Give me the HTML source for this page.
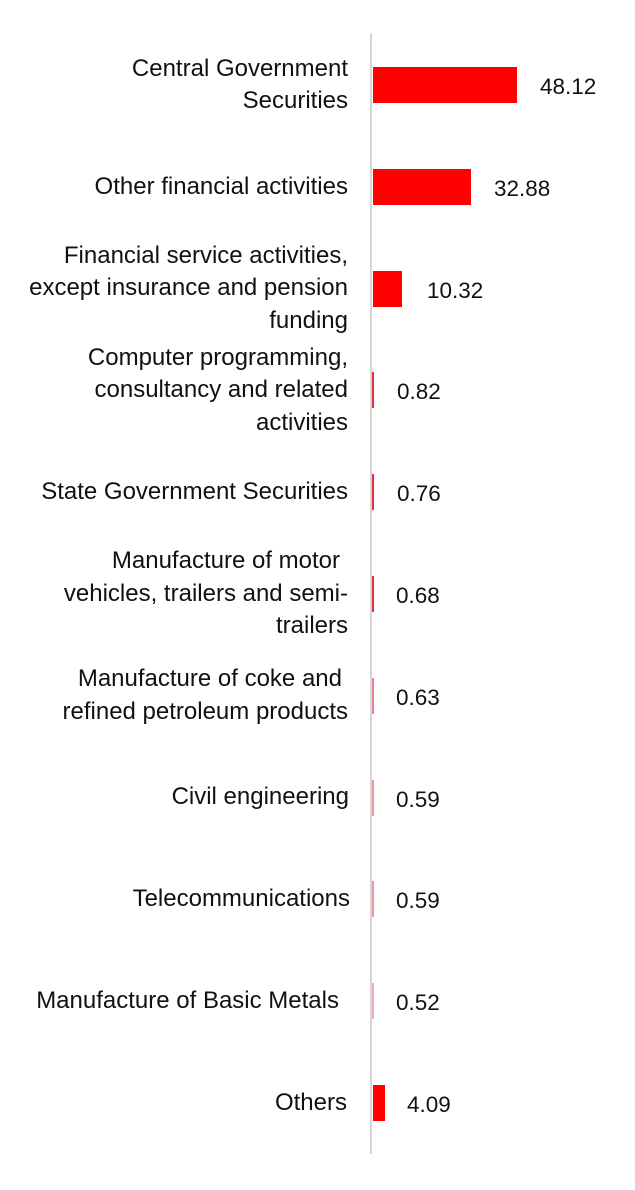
<!DOCTYPE html>
<html>
<head>
<meta charset="utf-8">
<style>
  html, body { margin:0; padding:0; background:#fff; }
  body { width:635px; height:1190px; position:relative; overflow:hidden; font-family:"Liberation Sans", sans-serif; color:#111; }
  .axis { position:absolute; left:370px; top:33px; width:2px; height:1121px; background:#d6d6d6; }
  .lab { position:absolute; left:0; width:348px; height:120px; display:flex; align-items:center; justify-content:flex-end; font-size:24px; line-height:32.5px; white-space:nowrap; }
  .lab > div { text-align:right; }
  .bar { position:absolute; left:373px; height:36px; background:#ff0000; }
  .thin { position:absolute; left:372px; width:1.5px; height:36px; background:#e03040; }
  .val { position:absolute; font-size:22.5px; line-height:36px; white-space:nowrap; }
</style>
</head>
<body>
<div class="axis"></div>

<div class="lab" style="top:25px;"><div>Central Government<br>Securities</div></div>
<div class="bar" style="top:67px; width:144px;"></div>
<div class="val" style="top:69px; left:540px;">48.12</div>

<div class="lab" style="top:126.8px;"><div>Other financial activities</div></div>
<div class="bar" style="top:168.8px; width:98px;"></div>
<div class="val" style="top:170.8px; left:494px;">32.88</div>

<div class="lab" style="top:228.6px;"><div>Financial service activities,<br>except insurance and pension<br>funding</div></div>
<div class="bar" style="top:270.6px; width:29px;"></div>
<div class="val" style="top:272.6px; left:427px;">10.32</div>

<div class="lab" style="top:330.4px;"><div>Computer programming,<br>consultancy and related<br>activities</div></div>
<div class="thin" style="top:372.4px;"></div>
<div class="val" style="top:374.4px; left:397px;">0.82</div>

<div class="lab" style="top:432.2px;"><div>State Government Securities</div></div>
<div class="thin" style="top:474.2px;"></div>
<div class="val" style="top:476.2px; left:397px;">0.76</div>

<div class="lab" style="top:534px;"><div><span style="padding-right:8px;">Manufacture of motor</span><br>vehicles, trailers and semi-<br>trailers</div></div>
<div class="thin" style="top:576px;"></div>
<div class="val" style="top:578px; left:396px;">0.68</div>

<div class="lab" style="top:635.8px;"><div><span style="padding-right:6px;">Manufacture of coke and</span><br>refined petroleum products</div></div>
<div class="thin" style="top:677.8px; opacity:0.6;"></div>
<div class="val" style="top:679.8px; left:396px;">0.63</div>

<div class="lab" style="top:737.6px;"><div style="margin-right:-1px;">Civil engineering</div></div>
<div class="thin" style="top:779.6px; opacity:0.5;"></div>
<div class="val" style="top:781.6px; left:396px;">0.59</div>

<div class="lab" style="top:839.4px;"><div style="margin-right:-2px;">Telecommunications</div></div>
<div class="thin" style="top:881.4px; opacity:0.5;"></div>
<div class="val" style="top:883.4px; left:396px;">0.59</div>

<div class="lab" style="top:941.2px;"><div style="padding-right:9px;">Manufacture of Basic Metals</div></div>
<div class="thin" style="top:983.2px; opacity:0.4;"></div>
<div class="val" style="top:985.2px; left:396px;">0.52</div>

<div class="lab" style="top:1043px;"><div style="padding-right:1px;">Others</div></div>
<div class="bar" style="top:1085px; width:11.5px;"></div>
<div class="val" style="top:1087px; left:407px;">4.09</div>

</body>
</html>
